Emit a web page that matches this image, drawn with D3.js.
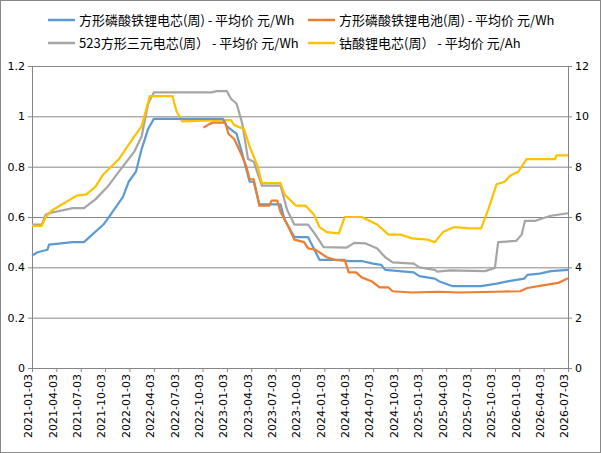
<!DOCTYPE html>
<html><head><meta charset="utf-8">
<script src="https://cdn.jsdelivr.net/npm/d3@7"></script>
<style>body{margin:0;background:#fff;font-family:"Noto Sans CJK SC","DejaVu Sans",sans-serif}</style>
</head><body><div id="chart"></div>
<script>
// months since 2021-01-03, values
const blueM = [0,0.7,1.9,2.1,5.0,6.4,6.9,8.8,9.7,11.2,11.9,12.8,13.5,14.3,15.0,23.5,24.0,25.2,25.9,26.8,27.3,28.0,30.6,31.1,32.3,34.0,35.4,37.3,39.0,40.6,42.0,43.0,43.5,47.0,47.7,49.6,50.1,51.8,55.3,57.2,58.7,60.6,61.0,62.5,63.9,66.0];
const blueV = [0.447,0.46,0.47,0.49,0.50,0.50,0.515,0.57,0.61,0.68,0.74,0.78,0.87,0.95,0.99,0.99,0.96,0.93,0.85,0.74,0.74,0.65,0.65,0.59,0.52,0.52,0.43,0.43,0.425,0.425,0.415,0.41,0.39,0.38,0.365,0.355,0.345,0.325,0.325,0.335,0.345,0.355,0.37,0.375,0.385,0.39];
const orangeM = [21.1,21.9,22.3,23.8,24.2,24.9,25.9,26.4,26.8,27.3,28.0,29.2,29.5,30.2,30.6,31.6,32.3,33.5,34.0,34.9,36.3,37.3,38.5,39.0,39.9,40.6,41.8,42.8,43.9,44.4,46.8,50.1,52.5,57.2,60.1,61.0,62.9,64.8,66.0];
const orangeV = [0.955,0.97,0.975,0.975,0.93,0.91,0.84,0.80,0.75,0.75,0.645,0.645,0.665,0.665,0.62,0.56,0.51,0.50,0.475,0.47,0.44,0.43,0.43,0.38,0.38,0.36,0.345,0.32,0.32,0.305,0.30,0.303,0.30,0.303,0.305,0.318,0.328,0.338,0.357];
const grayM = [0,1.2,1.7,2.1,5.0,6.4,7.8,9.3,10.7,12.6,13.5,14.3,15.0,22.1,22.8,24.0,24.5,25.2,25.9,26.6,27.3,28.3,30.6,31.4,32.3,34.0,34.9,35.9,38.7,39.7,41.1,42.5,43.5,44.4,47.0,47.7,49.6,49.9,51.5,55.8,57.0,57.4,59.6,60.3,60.7,62.0,62.9,63.9,66.0];
const grayV = [0.57,0.57,0.61,0.615,0.635,0.635,0.67,0.72,0.78,0.86,0.92,1.05,1.095,1.095,1.10,1.10,1.07,1.05,0.97,0.83,0.82,0.725,0.725,0.63,0.57,0.57,0.53,0.48,0.478,0.497,0.495,0.475,0.44,0.42,0.415,0.40,0.39,0.383,0.388,0.385,0.398,0.50,0.505,0.53,0.585,0.585,0.595,0.605,0.615];
const yellowM = [0,1.2,1.7,2.4,5.5,6.7,7.8,8.8,10.7,12.6,13.5,14.5,17.3,17.8,18.5,23.0,24.5,24.9,26.1,26.8,27.8,28.3,30.6,31.1,32.5,33.7,34.7,35.4,36.3,37.8,38.5,40.6,42.5,43.9,45.4,46.8,48.7,49.6,50.6,52.0,53.9,55.3,56.3,57.2,58.2,58.9,59.9,60.9,64.4,64.6,66.0];
const yellowV = [5.65,5.65,6.0,6.25,6.85,6.9,7.2,7.7,8.3,9.2,9.6,10.8,10.8,10.2,9.8,9.85,9.85,9.65,9.5,8.8,8.0,7.35,7.35,6.9,6.45,6.45,6.1,5.6,5.4,5.35,6.0,6.0,5.7,5.3,5.3,5.15,5.1,5.0,5.4,5.6,5.55,5.55,6.4,7.3,7.4,7.65,7.8,8.3,8.3,8.45,8.45];
const names = ["方形磷酸铁锂电芯(周) - 平均价 元/Wh","方形磷酸铁锂电池(周) - 平均价 元/Wh","523方形三元电芯(周） - 平均价 元/Wh","钴酸锂电芯(周） - 平均价 元/Ah"];
const colors = ["#5b9bd5","#ed7d31","#a5a5a5","#ffc000"];
const tickLabels = d3.range(0, 67, 3).map(m => d3.timeFormat("%Y-%m-%d")(d3.timeMonth.offset(new Date(2021,0,3), m)));

const W = 601, H = 453, L = 32, R = 568, T = 66, B = 368;
const svg = d3.select("#chart").append("svg").attr("width", W).attr("height", H);
svg.append("rect").attr("x",0.5).attr("y",0.5).attr("width",W-1).attr("height",H-1).attr("fill","#fff").attr("stroke","#888");

const x = d3.scaleLinear().domain([0,66]).range([L,R]);
const yL = d3.scaleLinear().domain([0,1.2]).range([B,T]);
const yR = d3.scaleLinear().domain([0,12]).range([B,T]);

// gridlines
svg.append("g").selectAll("line").data(d3.range(0,1.21,0.2)).join("line")
  .attr("x1",L).attr("x2",R).attr("y1",d=>yL(d)+0.5).attr("y2",d=>yL(d)+0.5).attr("stroke","#868686");

const axL = svg.append("g").attr("transform",`translate(${L},0)`)
  .call(d3.axisLeft(yL).tickValues(d3.range(0,1.21,0.2)).tickFormat(d=>+d.toFixed(1)).tickSize(4));
const axR = svg.append("g").attr("transform",`translate(${R},0)`)
  .call(d3.axisRight(yR).tickValues(d3.range(0,12.1,2)).tickSize(4));
const axB = svg.append("g").attr("transform",`translate(0,${B})`)
  .call(d3.axisBottom(x).tickValues(d3.range(0,67,3)).tickFormat((d,i)=>tickLabels[i]).tickSize(4));
axB.selectAll("text").attr("transform","rotate(-90)").attr("text-anchor","end").attr("x",-6).attr("y",-4).attr("dy","0.35em");
[axL,axR,axB].forEach(a=>{a.selectAll("path,line").attr("stroke","#868686");a.selectAll("text").attr("font-size",11).attr("fill","#000").attr("font-family","DejaVu Sans, sans-serif");});

const seriesList = [[blueM,blueV,yL],[orangeM,orangeV,yL],[grayM,grayV,yL],[yellowM,yellowV,yR]];
const drawOrder = [2,3,0,1];
drawOrder.forEach(k => {
  const [ms, vs, ys] = seriesList[k];
  svg.append("path").datum(ms.map((m,i)=>[m,vs[i]]))
    .attr("fill","none").attr("stroke",colors[k]).attr("stroke-width",2.2).attr("stroke-linejoin","round")
    .attr("d", d3.line().x(d=>x(d[0])).y(d=>ys(d[1])));
});

// legend
const lg = svg.append("g");
const pos = [[48,20],[308,20],[48,43],[308,43]];
names.forEach((n,i)=>{
  lg.append("line").attr("x1",pos[i][0]).attr("x2",pos[i][0]+27).attr("y1",pos[i][1]).attr("y2",pos[i][1]).attr("stroke",colors[i]).attr("stroke-width",2.5);
  lg.append("text").attr("x",pos[i][0]+31).attr("y",pos[i][1]+5).attr("font-size",13).text(n);
});
</script></body></html>
